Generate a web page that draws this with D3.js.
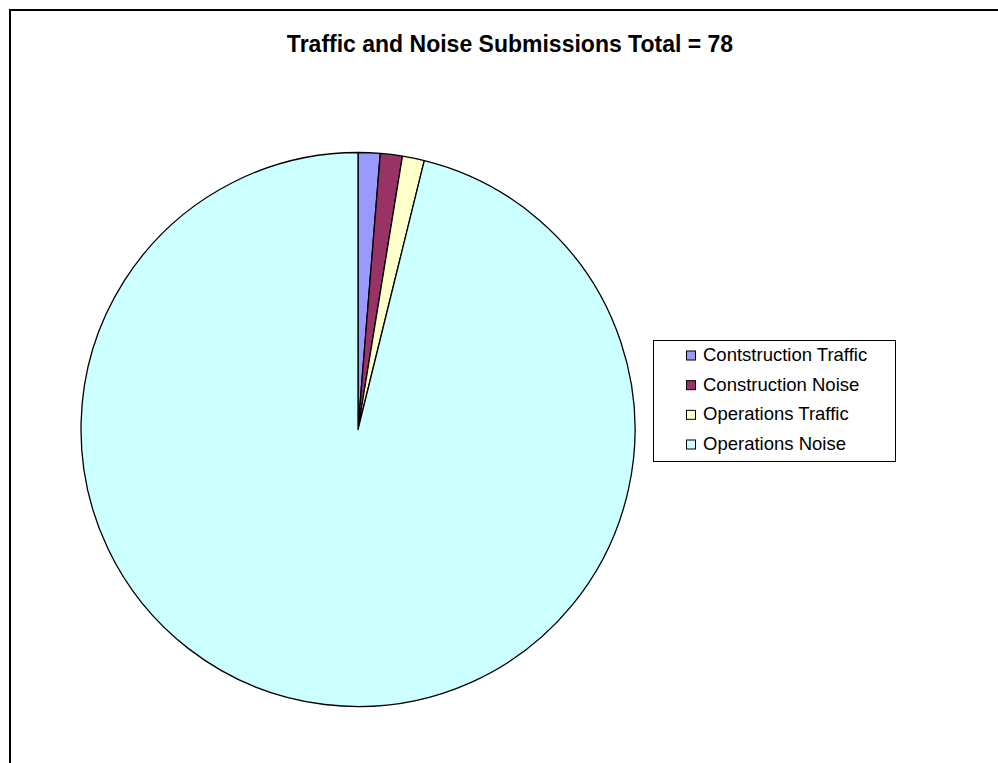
<!DOCTYPE html>
<html><head><meta charset="utf-8">
<script src="https://cdn.jsdelivr.net/npm/d3@7"></script>
<style>html,body{margin:0;padding:0;background:#fff;}svg{display:block;}</style>
</head><body>
<script>
const categories = ["Contstruction Traffic", "Construction Noise", "Operations Traffic", "Operations Noise"];
const values = [1, 1, 1, 75];
const colors = ["#9999FF", "#993366", "#FFFFCC", "#CCFFFF"];
const title = "Traffic and Noise Submissions Total = 78";

const W = 998, H = 763;
const svg = d3.select("body").append("svg").attr("width", W).attr("height", H);
svg.append("rect").attr("width", W).attr("height", H).attr("fill", "#fff");
svg.append("rect").attr("x", 10).attr("y", 10).attr("width", 1100).attr("height", 900)
  .attr("fill", "none").attr("stroke", "#000").attr("stroke-width", 2);

svg.append("text").attr("x", 510).attr("y", 52).attr("text-anchor", "middle")
  .attr("font-family", "Liberation Sans, Arial, sans-serif").attr("font-weight", "bold")
  .attr("font-size", 23).text(title);

const cx = 358, cy = 429.5, r = 277;
const pie = d3.pie().sort(null).value(d => d)(values);
const arc = d3.arc().innerRadius(0).outerRadius(r);
const g = svg.append("g").attr("transform", `translate(${cx},${cy})`);
g.selectAll("path").data(pie).join("path")
  .attr("d", arc).attr("fill", (d, i) => colors[i])
  .attr("stroke", "#000").attr("stroke-width", 1.3).attr("stroke-linejoin", "round");

const lg = svg.append("g");
lg.append("rect").attr("x", 653.5).attr("y", 340.5).attr("width", 242).attr("height", 121)
  .attr("fill", "#fff").attr("stroke", "#000").attr("stroke-width", 1);
const rowY = d3.scalePoint().domain(categories).range([355.5, 444.5]);
categories.forEach((c, i) => {
  const y = rowY(c);
  lg.append("rect").attr("x", 686.5).attr("y", y - 4.5).attr("width", 9).attr("height", 9)
    .attr("fill", colors[i]).attr("stroke", "#000").attr("stroke-width", 1);
  lg.append("text").attr("x", 703).attr("y", y + 5.5)
    .attr("font-family", "Liberation Sans, Arial, sans-serif").attr("font-size", 18.5).text(c);
});
</script>
</body></html>
